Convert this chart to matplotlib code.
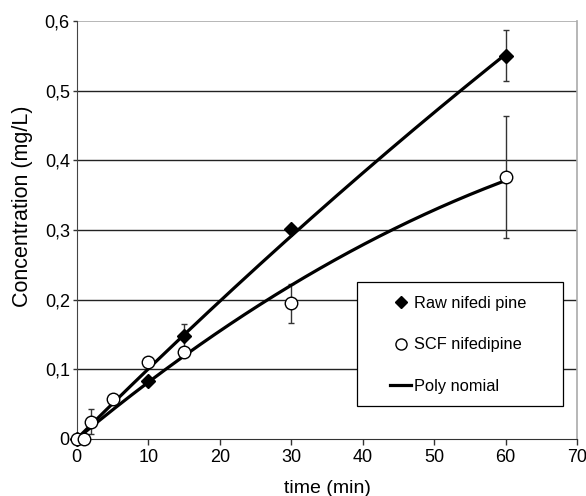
import numpy as np
import matplotlib.pyplot as plt
from matplotlib.patches import Rectangle

plt.rcParams['font.family'] = ['Liberation Sans', 'DejaVu Sans']

# raw nifedipine
raw_t = [0, 10, 15, 30, 60]
raw_c = [0.0, 0.083, 0.148, 0.302, 0.550]
raw_err = [0.0, 0.004, 0.017, 0.004, 0.037]

# SCF processed nifedipine
scf_t = [0, 1, 2, 5, 10, 15, 30, 60]
scf_c = [0.0, 0.0, 0.025, 0.057, 0.110, 0.125, 0.195, 0.376]
scf_err = [0.0, 0.0, 0.018, 0.003, 0.004, 0.004, 0.028, 0.088]

y_ticks = [0, 0.1, 0.2, 0.3, 0.4, 0.5, 0.6]
y_labels = ['0', '0,1', '0,2', '0,3', '0,4', '0,5', '0,6']
x_ticks = [0, 10, 20, 30, 40, 50, 60, 70]


def poly2_through_origin(t, c):
    # second order trendline with zero intercept
    t = np.asarray(t, dtype=float)
    A = np.column_stack([t, t ** 2])
    coef, *_ = np.linalg.lstsq(A, np.asarray(c), rcond=None)
    return lambda x: coef[0] * x + coef[1] * x ** 2


fig = plt.figure(figsize=(5.86, 4.96), dpi=100)
ax = fig.add_axes([0.131, 0.115, 0.854, 0.843])

for y in y_ticks[1:-1]:
    ax.axhline(y, color='#222222', linewidth=1.0, zorder=1)
ax.axhline(0.6, color='#aaaaaa', linewidth=1.2, zorder=1)

t_fit = np.linspace(0.5, 60, 200)
raw_fit = poly2_through_origin(raw_t, raw_c)
scf_fit = poly2_through_origin(scf_t, scf_c)
ax.plot(t_fit, raw_fit(t_fit), color='black', linewidth=2.3, zorder=3)
ax.plot(t_fit, scf_fit(t_fit), color='black', linewidth=2.3, zorder=3)

ax.errorbar(raw_t, raw_c, yerr=raw_err, fmt='none', ecolor='#333333',
            elinewidth=1.0, capsize=2.3, capthick=1.0, zorder=2)
ax.errorbar(scf_t, scf_c, yerr=scf_err, fmt='none', ecolor='#333333',
            elinewidth=1.0, capsize=2.3, capthick=1.0, zorder=2)

ax.plot(raw_t, raw_c, linestyle='none', marker='D', markersize=7,
        color='black', zorder=4, clip_on=False)
ax.plot(scf_t, scf_c, linestyle='none', marker='o', markersize=9,
        markerfacecolor='white', markeredgecolor='black', markeredgewidth=1.0,
        zorder=4, clip_on=False)

# legend frame drawn separately, handles inside it
ax.add_patch(Rectangle((0.56, 0.079), 0.412, 0.297, transform=ax.transAxes,
                       facecolor='white', edgecolor='black', linewidth=0.9, zorder=5))
h_raw, = ax.plot([], [], linestyle='none', marker='D', markersize=6, color='black')
h_scf, = ax.plot([], [], linestyle='none', marker='o', markersize=8,
                 markerfacecolor='white', markeredgecolor='black')
h_fit, = ax.plot([], [], color='black', linewidth=2.3)
leg = ax.legend([h_raw, h_scf, h_fit], ['Raw nifedi pine', 'SCF nifedipine', 'Poly nomial'],
                loc='center', bbox_to_anchor=(0.762, 0.225), fontsize=11.8,
                frameon=False, handlelength=1.3, handletextpad=0.15,
                labelspacing=1.6, borderpad=0, borderaxespad=0)
leg.set_zorder(6)

ax.set_xlim(0, 70)
ax.set_ylim(0, 0.6)
ax.set_xticks(x_ticks)
ax.set_yticks(y_ticks)
ax.set_yticklabels(y_labels)
ax.tick_params(axis='both', labelsize=13, direction='out', length=4, width=1, color='#333333')
ax.tick_params(axis='y', length=3, pad=2)
ax.tick_params(axis='x', pad=3)

ax.spines['top'].set_visible(False)
ax.spines['right'].set_color('#aaaaaa')
ax.spines['right'].set_linewidth(1.2)
ax.spines['left'].set_color('#444444')
ax.spines['bottom'].set_color('#333333')

ax.set_xlabel('time (min)', fontsize=14, labelpad=10)
ax.set_ylabel('Concentration (mg/L)', fontsize=15.5)
ax.yaxis.set_label_coords(-0.088, 0.557)

fig.savefig('out.png', dpi=100)
plt.close()
